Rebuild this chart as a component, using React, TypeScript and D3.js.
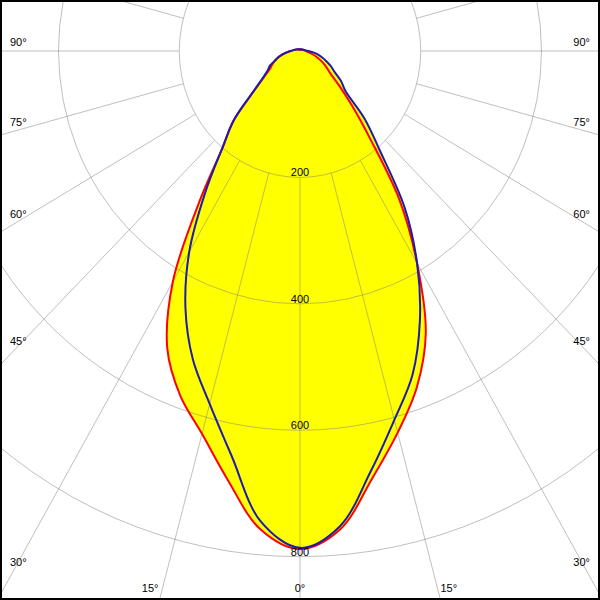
import React from 'react';
import * as d3 from 'd3';

// Gamma angles (degrees from nadir)
const gammaDeg = [0, 5, 10, 15, 20, 25, 30, 35, 40, 45, 50, 55, 60, 65, 70, 75, 80, 85, 90,
  95, 100, 105, 110, 115, 120, 125, 130, 135, 140, 145, 150, 155, 160, 165, 170, 175, 180];

// Luminous intensity (cd) – C0 plane (right half of red curve)
const intensityC0 = [788, 760, 687, 625, 566, 493, 388, 287, 180, 121, 84, 61, 50, 40, 31, 23, 16, 12, 10,
  8, 7, 6, 5, 5, 4, 4, 3, 3, 3, 3, 2, 2, 2, 2, 2, 2, 2];
// C180 plane (left half of red curve)
const intensityC180 = [788, 759, 689, 627, 580, 520, 421, 290, 199, 156, 101, 74, 58, 51, 44, 36, 28, 21, 16,
  12, 10, 8, 7, 6, 5, 5, 4, 4, 3, 3, 3, 2, 2, 2, 2, 2, 2];
// C90 plane (right half of blue curve)
const intensityC90 = [786, 755, 675, 604, 545, 470, 388, 302, 206, 151, 98, 83, 66, 56, 46, 37, 29, 21, 14,
  10, 8, 7, 6, 5, 5, 4, 4, 4, 3, 3, 3, 3, 3, 3, 3, 3, 3];
// C270 plane (left half of blue curve)
const intensityC270 = [786, 747, 651, 578, 519, 449, 367, 274, 200, 155, 103, 76, 62, 55, 44, 37, 29, 21, 16,
  12, 10, 8, 7, 6, 5, 5, 4, 4, 3, 3, 3, 3, 3, 3, 3, 3, 3];

const ringValues = [200, 400, 600, 800];
const ringLabels = ['200', '400', '600', '800'];
const spokeAngles = [0, 15, 30, 45, 60, 75, 90, 105, 120, 135, 150, 165, 180,
  195, 210, 225, 240, 255, 270, 285, 300, 315, 330, 345];
const sideLabelAngles = [90, 75, 60, 45, 30];
const sideLabels = ['90°', '75°', '60°', '45°', '30°'];
const bottomLabelAngle = 15;
const bottomLabels = ['15°', '0°', '15°'];

const W = 600;
const H = 600;
const CX = 300;
const CY = 51;
const X_ASPECT = 0.955;
const FONT = '"Liberation Sans", Arial, sans-serif';

export default function App() {
  const r = d3.scaleLinear().domain([0, 800]).range([0, 505.7]);
  const rad = (d: number) => (d * Math.PI) / 180;
  const project = (g: number, I: number, side: number): [number, number] => [
    CX + side * r(I) * X_ASPECT * Math.sin(rad(g)),
    CY + r(I) * Math.cos(rad(g)),
  ];
  const closedPoints = (right: number[], left: number[]) => {
    const pts: [number, number][] = gammaDeg.map((g, i) => project(g, right[i], 1));
    for (let i = gammaDeg.length - 2; i >= 1; i--) pts.push(project(gammaDeg[i], left[i], -1));
    return pts;
  };
  const line = d3.line<[number, number]>().curve(d3.curveCatmullRomClosed.alpha(0.5));
  const redPath = line(closedPoints(intensityC0, intensityC180)) || '';
  const bluePath = line(closedPoints(intensityC90, intensityC270)) || '';

  const sideY = (a: number) => {
    const yl = CY + (CX - 10) * Math.cos(rad(a)) / (X_ASPECT * Math.sin(rad(a)));
    return yl - (9 + (90 - a) * 0.1) + 4;
  };
  const bottomX = (H - CY) * X_ASPECT * Math.tan(rad(bottomLabelAngle));

  return (
    <svg width={W} height={H} style={{ position: 'fixed', left: 0, top: 0 }}
      xmlns="http://www.w3.org/2000/svg">
      <rect x={0} y={0} width={W} height={H} fill="#ffffff" />
      <path d={bluePath} fill="#ffff00" stroke="none" />
      <path d={redPath} fill="#ffff00" stroke="none" />
      <g stroke="#808080" strokeOpacity={0.5} fill="none" strokeWidth={1}>
        {ringValues.map((v) => (
          <ellipse key={v} cx={CX} cy={CY} rx={r(v) * X_ASPECT} ry={r(v)} />
        ))}
        {spokeAngles.map((a) => {
          const [x1, y1] = project(a, ringValues[0], 1);
          const [x2, y2] = project(a, 1400, 1);
          return <line key={a} x1={x1} y1={y1} x2={x2} y2={y2} />;
        })}
      </g>
      <path d={redPath} fill="none" stroke="#ff0000" strokeWidth={2} strokeLinejoin="round" />
      <path d={bluePath} fill="none" stroke="#1c1cb0" strokeWidth={2} strokeLinejoin="round" />
      <g fontFamily={FONT} fontSize={11} fill="#000">
        {ringValues.map((v, i) => (
          <text key={v} x={CX} y={CY + r(v) - 1} textAnchor="middle">{ringLabels[i]}</text>
        ))}
        {sideLabelAngles.map((a, i) => (
          <g key={a}>
            <text x={10} y={sideY(a)} textAnchor="start">{sideLabels[i]}</text>
            <text x={W - 10} y={sideY(a)} textAnchor="end">{sideLabels[i]}</text>
          </g>
        ))}
        <text x={CX - bottomX - 1} y={592} textAnchor="end">{bottomLabels[0]}</text>
        <text x={CX} y={592} textAnchor="middle">{bottomLabels[1]}</text>
        <text x={CX + bottomX} y={592} textAnchor="start">{bottomLabels[2]}</text>
      </g>
      <rect x={1} y={1} width={W - 2} height={H - 2} fill="none" stroke="#000" strokeWidth={2} />
    </svg>
  );
}
